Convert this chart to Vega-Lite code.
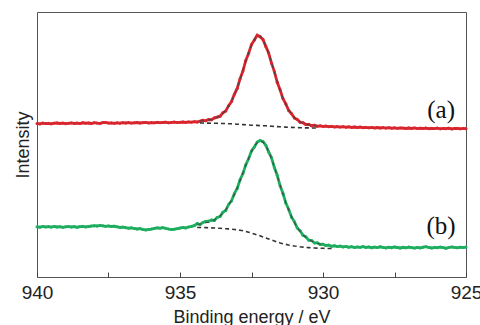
{
"$schema":"https://vega.github.io/schema/vega-lite/v6.json",
"autosize":"none",
"width":429,"height":265,
"padding":{"left":37,"top":12,"right":14,"bottom":48},
"config":{"view":{"stroke":"#555","strokeWidth":1},"font":"Liberation Sans"},
"datasets":{
"spec":[
{"e":940.0,"s":"a","i":153.6},{"e":939.9,"s":"a","i":153.1},{"e":939.8,"s":"a","i":153.9},{"e":939.7,"s":"a","i":153.4},{"e":939.6,"s":"a","i":153.7},{"e":939.5,"s":"a","i":153.2},{"e":939.4,"s":"a","i":153.8},{"e":939.3,"s":"a","i":154.0},{"e":939.2,"s":"a","i":153.5},{"e":939.1,"s":"a","i":153.9},{"e":939.0,"s":"a","i":153.3},{"e":938.9,"s":"a","i":153.7},{"e":938.8,"s":"a","i":154.1},{"e":938.7,"s":"a","i":153.6},{"e":938.6,"s":"a","i":153.9},{"e":938.5,"s":"a","i":153.4},{"e":938.4,"s":"a","i":154.2},{"e":938.3,"s":"a","i":153.8},{"e":938.2,"s":"a","i":154.0},{"e":938.1,"s":"a","i":153.5},{"e":938.0,"s":"a","i":154.3},{"e":937.9,"s":"a","i":153.9},{"e":937.8,"s":"a","i":153.6},{"e":937.7,"s":"a","i":154.4},{"e":937.6,"s":"a","i":154.6},{"e":937.5,"s":"a","i":153.9},{"e":937.4,"s":"a","i":154.1},{"e":937.3,"s":"a","i":153.7},{"e":937.2,"s":"a","i":154.2},{"e":937.1,"s":"a","i":153.8},{"e":937.0,"s":"a","i":154.3},{"e":936.9,"s":"a","i":154.0},{"e":936.8,"s":"a","i":154.4},{"e":936.7,"s":"a","i":153.9},{"e":936.6,"s":"a","i":154.2},{"e":936.5,"s":"a","i":154.5},{"e":936.4,"s":"a","i":154.0},{"e":936.3,"s":"a","i":154.3},{"e":936.2,"s":"a","i":154.6},{"e":936.1,"s":"a","i":154.1},{"e":936.0,"s":"a","i":154.4},{"e":935.9,"s":"a","i":154.2},{"e":935.8,"s":"a","i":154.7},{"e":935.7,"s":"a","i":154.3},{"e":935.6,"s":"a","i":154.5},{"e":935.5,"s":"a","i":154.8},{"e":935.4,"s":"a","i":154.2},{"e":935.3,"s":"a","i":154.6},{"e":935.2,"s":"a","i":154.9},{"e":935.1,"s":"a","i":154.4},{"e":935.0,"s":"a","i":154.7},{"e":934.9,"s":"a","i":155.0},{"e":934.8,"s":"a","i":154.6},{"e":934.7,"s":"a","i":155.1},{"e":934.6,"s":"a","i":154.8},{"e":934.5,"s":"a","i":155.3},{"e":934.4,"s":"a","i":155.0},
{"e":934.3,"s":"a","i":155.8,"f":156.2,"b":154.0},{"e":934.2,"s":"a","i":156.7,"f":156.3,"b":153.95},{"e":934.1,"s":"a","i":156.2,"f":156.6,"b":153.9},{"e":934.0,"s":"a","i":157.5,"f":157.0,"b":153.9},{"e":933.9,"s":"a","i":157.2,"f":157.6,"b":153.8},{"e":933.8,"s":"a","i":159.1,"f":158.5,"b":153.8},{"e":933.7,"s":"a","i":159.9,"f":159.6,"b":153.7},{"e":933.6,"s":"a","i":160.8,"f":161.2,"b":153.6},{"e":933.5,"s":"a","i":164.2,"f":163.5,"b":153.5},{"e":933.4,"s":"a","i":166.1,"f":166.6,"b":153.4},{"e":933.3,"s":"a","i":171.3,"f":170.6,"b":153.3},{"e":933.2,"s":"a","i":175.4,"f":175.9,"b":153.2},{"e":933.1,"s":"a","i":182.7,"f":182.0,"b":153.0},{"e":933.0,"s":"a","i":188.6,"f":189.2,"b":152.8},{"e":932.9,"s":"a","i":198.2,"f":197.5,"b":152.6},{"e":932.8,"s":"a","i":206.0,"f":206.6,"b":152.4},{"e":932.7,"s":"a","i":216.5,"f":215.8,"b":152.2},{"e":932.6,"s":"a","i":223.8,"f":224.4,"b":152.0},{"e":932.5,"s":"a","i":232.4,"f":231.8,"b":151.8},{"e":932.4,"s":"a","i":237.0,"f":237.5,"b":151.7},{"e":932.3,"s":"a","i":241.8,"f":241.1,"b":151.6},{"e":932.2,"s":"a","i":240.3,"f":240.9,"b":151.4},{"e":932.1,"s":"a","i":237.6,"f":237.1,"b":151.3},{"e":932.0,"s":"a","i":230.6,"f":231.2,"b":151.2},{"e":931.9,"s":"a","i":224.0,"f":223.4,"b":151.0},{"e":931.8,"s":"a","i":213.8,"f":214.4,"b":150.8},{"e":931.7,"s":"a","i":205.4,"f":204.8,"b":150.6},{"e":931.6,"s":"a","i":194.7,"f":195.3,"b":150.4},{"e":931.5,"s":"a","i":187.2,"f":186.6,"b":150.2},{"e":931.4,"s":"a","i":178.4,"f":179.0,"b":150.0},{"e":931.3,"s":"a","i":173.1,"f":172.6,"b":149.9},{"e":931.2,"s":"a","i":166.5,"f":167.0,"b":149.7},{"e":931.1,"s":"a","i":163.3,"f":162.8,"b":149.6},{"e":931.0,"s":"a","i":159.0,"f":159.5,"b":149.5},{"e":930.9,"s":"a","i":157.5,"f":157.0,"b":149.4},{"e":930.8,"s":"a","i":154.7,"f":155.2,"b":149.3},{"e":930.7,"s":"a","i":154.3,"f":153.9,"b":149.2},{"e":930.6,"s":"a","i":152.5,"f":152.95,"b":149.15},{"e":930.5,"s":"a","i":152.7,"f":152.2,"b":149.1},{"e":930.4,"s":"a","i":151.3,"f":151.75,"b":149.05},{"e":930.3,"s":"a","i":151.8,"f":151.4,"b":149.0},{"e":930.2,"s":"a","i":150.8,"f":151.2,"b":149.0},
{"e":930.1,"s":"a","i":151.2},{"e":930.0,"s":"a","i":150.6},{"e":929.9,"s":"a","i":150.9},{"e":929.8,"s":"a","i":150.3},{"e":929.7,"s":"a","i":150.7},{"e":929.6,"s":"a","i":150.1},{"e":929.5,"s":"a","i":150.4},{"e":929.4,"s":"a","i":149.9},{"e":929.3,"s":"a","i":150.3},{"e":929.2,"s":"a","i":149.8},{"e":929.1,"s":"a","i":150.2},{"e":929.0,"s":"a","i":149.6},{"e":928.9,"s":"a","i":150.0},{"e":928.8,"s":"a","i":149.5},{"e":928.7,"s":"a","i":149.9},{"e":928.6,"s":"a","i":149.3},{"e":928.5,"s":"a","i":149.7},{"e":928.4,"s":"a","i":149.2},{"e":928.3,"s":"a","i":149.6},{"e":928.2,"s":"a","i":149.1},{"e":928.1,"s":"a","i":149.5},{"e":928.0,"s":"a","i":149.0},{"e":927.9,"s":"a","i":149.4},{"e":927.8,"s":"a","i":148.9},{"e":927.7,"s":"a","i":149.3},{"e":927.6,"s":"a","i":148.8},{"e":927.5,"s":"a","i":149.2},{"e":927.4,"s":"a","i":148.7},{"e":927.3,"s":"a","i":149.1},{"e":927.2,"s":"a","i":148.9},{"e":927.1,"s":"a","i":148.5},{"e":927.0,"s":"a","i":149.0},{"e":926.9,"s":"a","i":148.6},{"e":926.8,"s":"a","i":149.1},{"e":926.7,"s":"a","i":148.4},{"e":926.6,"s":"a","i":148.8},{"e":926.5,"s":"a","i":148.5},{"e":926.4,"s":"a","i":148.9},{"e":926.3,"s":"a","i":148.3},{"e":926.2,"s":"a","i":148.7},{"e":926.1,"s":"a","i":148.4},{"e":926.0,"s":"a","i":148.9},{"e":925.9,"s":"a","i":148.2},{"e":925.8,"s":"a","i":148.6},{"e":925.7,"s":"a","i":148.3},{"e":925.6,"s":"a","i":148.8},{"e":925.5,"s":"a","i":148.1},{"e":925.4,"s":"a","i":148.5},{"e":925.3,"s":"a","i":148.7},{"e":925.2,"s":"a","i":148.2},{"e":925.1,"s":"a","i":148.6},{"e":925.0,"s":"a","i":148.3},
{"e":940.0,"s":"b","i":50.3},{"e":939.9,"s":"b","i":49.8},{"e":939.8,"s":"b","i":50.6},{"e":939.7,"s":"b","i":50.1},{"e":939.6,"s":"b","i":50.4},{"e":939.5,"s":"b","i":49.9},{"e":939.4,"s":"b","i":50.5},{"e":939.3,"s":"b","i":50.0},{"e":939.2,"s":"b","i":50.3},{"e":939.1,"s":"b","i":49.7},{"e":939.0,"s":"b","i":50.2},{"e":938.9,"s":"b","i":50.6},{"e":938.8,"s":"b","i":50.0},{"e":938.7,"s":"b","i":50.4},{"e":938.6,"s":"b","i":49.8},{"e":938.5,"s":"b","i":50.3},{"e":938.4,"s":"b","i":50.7},{"e":938.3,"s":"b","i":50.1},{"e":938.2,"s":"b","i":50.5},{"e":938.1,"s":"b","i":50.9},{"e":938.0,"s":"b","i":51.3},{"e":937.9,"s":"b","i":51.0},{"e":937.8,"s":"b","i":51.6},{"e":937.7,"s":"b","i":51.2},{"e":937.6,"s":"b","i":50.7},{"e":937.5,"s":"b","i":51.1},{"e":937.4,"s":"b","i":50.5},{"e":937.3,"s":"b","i":50.8},{"e":937.2,"s":"b","i":50.2},{"e":937.1,"s":"b","i":49.6},{"e":937.0,"s":"b","i":49.9},{"e":936.9,"s":"b","i":49.3},{"e":936.8,"s":"b","i":48.8},{"e":936.7,"s":"b","i":49.2},{"e":936.6,"s":"b","i":48.5},{"e":936.5,"s":"b","i":48.0},{"e":936.4,"s":"b","i":48.4},{"e":936.3,"s":"b","i":47.6},{"e":936.2,"s":"b","i":47.1},{"e":936.1,"s":"b","i":47.5},{"e":936.0,"s":"b","i":47.9},{"e":935.9,"s":"b","i":48.6},{"e":935.8,"s":"b","i":49.2},{"e":935.7,"s":"b","i":48.8},{"e":935.6,"s":"b","i":49.4},{"e":935.5,"s":"b","i":48.7},{"e":935.4,"s":"b","i":48.0},{"e":935.3,"s":"b","i":47.4},{"e":935.2,"s":"b","i":47.8},{"e":935.1,"s":"b","i":48.3},{"e":935.0,"s":"b","i":48.9},{"e":934.9,"s":"b","i":49.5},{"e":934.8,"s":"b","i":49.1},{"e":934.7,"s":"b","i":50.0},{"e":934.6,"s":"b","i":50.6},{"e":934.5,"s":"b","i":51.4},
{"e":934.4,"s":"b","i":53.4,"f":52.7,"b":49.5},{"e":934.3,"s":"b","i":52.4,"f":53.0,"b":49.5},{"e":934.2,"s":"b","i":54.6,"f":53.7,"b":49.5},{"e":934.1,"s":"b","i":55.6,"f":54.2,"b":49.4},{"e":934.0,"s":"b","i":55.8,"f":54.9,"b":49.3},{"e":933.9,"s":"b","i":57.0,"f":55.9,"b":49.15},{"e":933.8,"s":"b","i":56.5,"f":57.1,"b":49.0},{"e":933.7,"s":"b","i":59.6,"f":58.8,"b":48.85},{"e":933.6,"s":"b","i":60.4,"f":61.1,"b":48.7},{"e":933.5,"s":"b","i":64.7,"f":63.8,"b":48.5},{"e":933.4,"s":"b","i":66.6,"f":67.3,"b":48.3},{"e":933.3,"s":"b","i":72.5,"f":71.7,"b":48.1},{"e":933.2,"s":"b","i":76.1,"f":76.8,"b":47.9},{"e":933.1,"s":"b","i":83.3,"f":82.6,"b":47.55},{"e":933.0,"s":"b","i":88.5,"f":89.2,"b":47.2},{"e":932.9,"s":"b","i":97.2,"f":96.4,"b":46.75},{"e":932.8,"s":"b","i":103.4,"f":104.1,"b":46.3},{"e":932.7,"s":"b","i":112.3,"f":111.6,"b":45.6},{"e":932.6,"s":"b","i":118.2,"f":118.9,"b":44.8},{"e":932.5,"s":"b","i":126.1,"f":125.4,"b":43.9},{"e":932.4,"s":"b","i":130.1,"f":130.8,"b":43.0},{"e":932.3,"s":"b","i":135.0,"f":134.3,"b":42.1},{"e":932.2,"s":"b","i":136.4,"f":135.9,"b":41.2},{"e":932.1,"s":"b","i":135.6,"f":134.8,"b":40.1},{"e":932.0,"s":"b","i":131.8,"f":131.2,"b":39.0},{"e":931.9,"s":"b","i":125.1,"f":125.8,"b":38.0},{"e":931.8,"s":"b","i":119.2,"f":118.5,"b":37.0},{"e":931.7,"s":"b","i":109.4,"f":110.1,"b":36.0},{"e":931.6,"s":"b","i":101.7,"f":101.0,"b":35.0},{"e":931.5,"s":"b","i":91.2,"f":91.9,"b":34.1},{"e":931.4,"s":"b","i":83.7,"f":83.0,"b":33.3},{"e":931.3,"s":"b","i":74.0,"f":74.6,"b":32.6},{"e":931.2,"s":"b","i":67.8,"f":67.1,"b":32.0},{"e":931.1,"s":"b","i":59.8,"f":60.4,"b":31.5},{"e":931.0,"s":"b","i":55.3,"f":54.6,"b":31.0},{"e":930.9,"s":"b","i":49.0,"f":49.6,"b":30.6},{"e":930.8,"s":"b","i":46.2,"f":45.5,"b":30.2},{"e":930.7,"s":"b","i":41.7,"f":42.3,"b":29.9},{"e":930.6,"s":"b","i":40.2,"f":39.6,"b":29.6},{"e":930.5,"s":"b","i":36.9,"f":37.5,"b":29.4},{"e":930.4,"s":"b","i":36.5,"f":35.9,"b":29.2},{"e":930.3,"s":"b","i":34.1,"f":34.7,"b":29.05},{"e":930.2,"s":"b","i":34.2,"f":33.7,"b":28.9},{"e":930.1,"s":"b","i":32.5,"f":33.0,"b":28.8},{"e":930.0,"s":"b","i":32.8,"f":32.2,"b":28.7},
{"e":929.9,"s":"b","i":31.5,"b":28.6},{"e":929.8,"s":"b","i":31.9,"b":28.5},{"e":929.7,"s":"b","i":30.8,"b":28.5},{"e":929.6,"s":"b","i":31.2,"b":28.4},{"e":929.5,"s":"b","i":30.4},{"e":929.4,"s":"b","i":30.9},{"e":929.3,"s":"b","i":30.1},{"e":929.2,"s":"b","i":30.6},{"e":929.1,"s":"b","i":29.8},{"e":929.0,"s":"b","i":30.3},{"e":928.9,"s":"b","i":29.5},{"e":928.8,"s":"b","i":30.1},{"e":928.7,"s":"b","i":29.7},{"e":928.6,"s":"b","i":30.4},{"e":928.5,"s":"b","i":29.6},{"e":928.4,"s":"b","i":30.0},{"e":928.3,"s":"b","i":29.3},{"e":928.2,"s":"b","i":29.9},{"e":928.1,"s":"b","i":29.4},{"e":928.0,"s":"b","i":30.2},{"e":927.9,"s":"b","i":29.6},{"e":927.8,"s":"b","i":29.1},{"e":927.7,"s":"b","i":29.8},{"e":927.6,"s":"b","i":29.3},{"e":927.5,"s":"b","i":30.0},{"e":927.4,"s":"b","i":29.5},{"e":927.3,"s":"b","i":29.0},{"e":927.2,"s":"b","i":29.7},{"e":927.1,"s":"b","i":29.2},{"e":927.0,"s":"b","i":29.9},{"e":926.9,"s":"b","i":29.4},{"e":926.8,"s":"b","i":28.9},{"e":926.7,"s":"b","i":29.6},{"e":926.6,"s":"b","i":29.1},{"e":926.5,"s":"b","i":29.8},{"e":926.4,"s":"b","i":30.3},{"e":926.3,"s":"b","i":29.5},{"e":926.2,"s":"b","i":29.0},{"e":926.1,"s":"b","i":29.7},{"e":926.0,"s":"b","i":29.3},{"e":925.9,"s":"b","i":29.9},{"e":925.8,"s":"b","i":29.4},{"e":925.7,"s":"b","i":28.8},{"e":925.6,"s":"b","i":29.5},{"e":925.5,"s":"b","i":30.1},{"e":925.4,"s":"b","i":29.6},{"e":925.3,"s":"b","i":29.2},{"e":925.2,"s":"b","i":29.8},{"e":925.1,"s":"b","i":29.4},{"e":925.0,"s":"b","i":29.9}
],
"labels":[{"e":925.87,"i":167,"t":"(a)"},{"e":925.87,"i":51,"t":"(b)"}]
},
"layer":[
{"data":{"name":"spec"},"mark":{"type":"line","strokeWidth":2.8,"clip":true},
 "encoding":{
  "x":{"field":"e","type":"quantitative","scale":{"domain":[925,940],"reverse":true,"nice":false,"zero":false},
   "axis":{"values":[940,937.5,935,932.5,930,927.5,925],"labelExpr":"datum.value % 5 == 0 ? datum.label : ''","labelFlush":false,"offset":-5,"tickSize":5,"tickColor":"#444","domain":false,"grid":false,"labelFontSize":19,"labelColor":"#222","labelPadding":6,"labelFont":"Liberation Sans","title":"Binding energy / eV","titleFontSize":18,"titleFontWeight":"normal","titleColor":"#222","titleFont":"Liberation Sans","titleBaseline":"alphabetic","titleY":50}},
  "y":{"field":"i","type":"quantitative","scale":{"domain":[0,265],"nice":false,"zero":false},
   "axis":{"labels":false,"ticks":false,"domain":false,"grid":false,"title":"Intensity","titleFontSize":18,"titleFontWeight":"normal","titleColor":"#222","titleFont":"Liberation Sans","titlePadding":5}},
  "color":{"field":"s","type":"nominal","scale":{"domain":["a","b"],"range":["#d8262e","#1fae60"]},"legend":null}}},
{"data":{"name":"spec"},"mark":{"type":"point","filled":true,"size":9,"opacity":1},
 "encoding":{"x":{"field":"e","type":"quantitative"},"y":{"field":"i","type":"quantitative"},
  "color":{"field":"s","type":"nominal","legend":null}}},
{"data":{"name":"spec"},"transform":[{"filter":"datum.b != null"}],"mark":{"type":"line","color":"#333","strokeWidth":1.6,"strokeDash":[4,3]},
 "encoding":{"x":{"field":"e","type":"quantitative"},"y":{"field":"b","type":"quantitative"},"detail":{"field":"s"}}},
{"data":{"name":"spec"},"transform":[{"filter":"datum.f != null"}],"mark":{"type":"line","color":"#444","strokeWidth":1.1,"strokeDash":[4,4]},
 "encoding":{"x":{"field":"e","type":"quantitative"},"y":{"field":"f","type":"quantitative"},"detail":{"field":"s"}}},
{"data":{"name":"labels"},"mark":{"type":"text","font":"Liberation Serif","fontSize":25,"color":"#111","align":"center","baseline":"middle"},
 "encoding":{"x":{"field":"e","type":"quantitative"},"y":{"field":"i","type":"quantitative"},"text":{"field":"t"}}}
]
}
